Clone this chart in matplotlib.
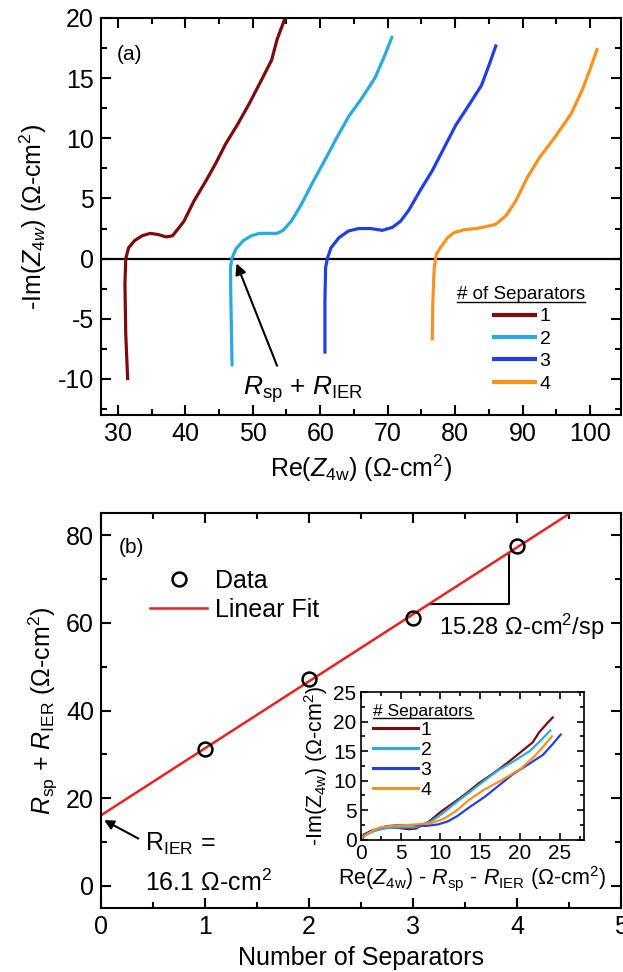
import matplotlib
matplotlib.use('Agg')
import matplotlib.pyplot as plt
from matplotlib.lines import Line2D
from matplotlib.ticker import MultipleLocator

plt.rcParams['font.family'] = ['Liberation Sans', 'DejaVu Sans']
plt.rcParams['mathtext.fontset'] = 'custom'
plt.rcParams['mathtext.rm'] = 'Liberation Sans'
plt.rcParams['mathtext.it'] = 'Liberation Sans:italic'
plt.rcParams['mathtext.bf'] = 'Liberation Sans:bold'
plt.rcParams['axes.unicode_minus'] = False

# ---------------- data ----------------
sep_labels = ['1', '2', '3', '4']
colors = ['#7d0b0b', '#2aaae2', '#2140e4', '#f7921e']

re_1 = [31.47, 31.18, 31.06, 31.18, 31.6, 32.5, 33.6, 34.8, 36.0, 37.2, 38.1, 38.9, 39.8,
        41.3, 43.1, 44.5, 46.0, 47.8, 49.5, 51.3, 52.8, 53.6, 54.8, 55.3]
im_1 = [-10.1, -6.3, -2.1, 0.0, 0.9, 1.5, 1.9, 2.1, 2.0, 1.8, 1.9, 2.45, 3.1,
        4.8, 6.5, 7.9, 9.55, 11.2, 12.9, 14.85, 16.5, 18.2, 20.0, 20.7]

re_2 = [46.94, 46.76, 46.7, 46.9, 47.5, 48.6, 49.8, 51.0, 52.5, 53.6, 54.5, 55.7, 57.2,
        58.9, 60.7, 62.5, 64.2, 66.0, 68.1, 69.5, 70.7]
im_2 = [-8.95, -3.5, -0.75, 0.0, 0.8, 1.5, 1.9, 2.1, 2.1, 2.1, 2.35, 3.1, 4.5,
        6.35, 8.2, 10.1, 11.8, 13.2, 15.0, 16.8, 18.5]

re_3 = [60.7, 60.7, 60.8, 61.06, 61.6, 62.8, 64.2, 65.7, 67.5, 69.2, 70.7, 71.9, 73.1,
        74.8, 76.6, 78.4, 80.1, 82.2, 83.9, 85.1, 86.1]
im_3 = [-7.9, -3.5, -0.75, 0.0, 0.9, 1.75, 2.3, 2.5, 2.5, 2.35, 2.6, 3.1, 4.0,
        5.65, 7.3, 9.25, 11.1, 12.9, 14.4, 16.2, 17.8]

re_4 = [76.6, 76.7, 76.9, 77.2, 77.8, 78.9, 79.8, 81.3, 83.1, 84.5, 86.0, 87.5, 89.0,
        90.7, 92.5, 94.8, 97.2, 98.9, 100.1, 101.1]
im_4 = [-6.8, -3.5, -0.75, 0.35, 0.9, 1.75, 2.15, 2.4, 2.5, 2.65, 2.85, 3.55, 4.8,
        6.75, 8.4, 10.1, 12.05, 14.1, 15.9, 17.5]

re_all = [re_1, re_2, re_3, re_4]
im_all = [im_1, im_2, im_3, im_4]

# R_sp + R_IER (used to shift the inset curves)
inset_offsets = [31.2, 46.9, 61.0, 77.1]

n_separators = [1, 2, 3, 4]
r_total = [31.3, 47.2, 61.2, 77.5]
fit_intercept = 16.1
fit_slope = 15.28
fit_x = [0, 5]

# ---------------- figure ----------------
fig = plt.figure(figsize=(6.23, 9.72), dpi=100)
axA = fig.add_axes([0.162, 0.573, 0.835, 0.4085])
axB = fig.add_axes([0.162, 0.066, 0.835, 0.406])
axI = fig.add_axes([0.579, 0.136, 0.358, 0.152])


def style(ax, size, lw=1.5, maj=7, mino=4, pad=5):
    for s in ax.spines.values():
        s.set_linewidth(lw)
    ax.tick_params(which='both', direction='in', top=True, right=True, width=lw,
                   labelsize=size, pad=pad)
    ax.tick_params(which='major', length=maj)
    ax.tick_params(which='minor', length=mino)


# ---- panel (a) ----
for re, im, c, lab in zip(re_all, im_all, colors, sep_labels):
    axA.plot(re, im, color=c, lw=2.3, label=lab, solid_capstyle='butt')
axA.axhline(0, color='black', lw=1.6, zorder=1)
axA.set_xlim(27.5, 104.6)
axA.set_ylim(-13, 20)
axA.xaxis.set_major_locator(MultipleLocator(10))
axA.xaxis.set_minor_locator(MultipleLocator(5))
axA.yaxis.set_major_locator(MultipleLocator(5))
axA.yaxis.set_minor_locator(MultipleLocator(2.5))
style(axA, 18)
axA.set_xlabel(r'Re($\it{Z}_{\rm 4w}$) ($\Omega$-cm$^{2}$)', fontsize=18, labelpad=5)
axA.set_ylabel(r'-Im($\it{Z}_{4w}$) ($\Omega$-cm$^{2}$)', fontsize=18, labelpad=6)
axA.text(0.03, 0.895, '(a)', transform=axA.transAxes, fontsize=15)
axA.annotate('', xy=(47.6, -0.4), xytext=(53.6, -8.9),
             arrowprops=dict(arrowstyle='-|>', color='black', lw=1.5,
                             mutation_scale=16, shrinkA=0, shrinkB=0))
axA.text(57.4, -10.9, r'$R_{\rm sp}$ + $R_{\rm IER}$', fontsize=19, ha='center', va='center')
legA = axA.legend(title='# of Separators', loc='upper left', bbox_to_anchor=(0.67, 0.345),
                  frameon=False, fontsize=14, title_fontsize=13.5, handlelength=2.3,
                  handletextpad=0.15, labelspacing=0.25, borderaxespad=0,
                  markerfirst=True)
for h in legA.get_lines():
    h.set_linewidth(3)
legA._legend_box.align = 'center'

# ---- panel (b) ----
fit_y = [fit_intercept + fit_slope * x for x in fit_x]
axB.plot(fit_x, fit_y, color='#e8221e', lw=1.8, label='Linear Fit', zorder=2)
axB.plot(n_separators, r_total, 'o', mfc='none', mec='black', mew=1.8, ms=10,
         label='Data', zorder=3)
axB.set_xlim(0, 5)
axB.set_ylim(-5, 85)
axB.xaxis.set_major_locator(MultipleLocator(1))
axB.xaxis.set_minor_locator(MultipleLocator(0.5))
axB.yaxis.set_major_locator(MultipleLocator(20))
axB.yaxis.set_minor_locator(MultipleLocator(10))
style(axB, 18)
axB.set_xlabel('Number of Separators', fontsize=18, labelpad=5)
axB.set_ylabel(r'$R_{\rm sp}$ + $R_{\rm IER}$ ($\Omega$-cm$^{2}$)', fontsize=18, labelpad=4)
axB.text(0.035, 0.9, '(b)', transform=axB.transAxes, fontsize=15)
hB, lB = axB.get_legend_handles_labels()
axB.legend([hB[1], hB[0]], [lB[1], lB[0]], loc='upper left', bbox_to_anchor=(0.075, 0.885),
           frameon=False, fontsize=18, handlelength=2.3, handletextpad=0.3,
           labelspacing=0.2, borderaxespad=0)
# slope triangle
x_a, x_b = 3.16, 3.92
axB.plot([x_a, x_b, x_b], [fit_intercept + fit_slope * x_a, fit_intercept + fit_slope * x_a,
                           fit_intercept + fit_slope * x_b], color='black', lw=1.5, zorder=1)
axB.text(3.25, 59, r'15.28 $\Omega$-cm$^{2}$/sp', fontsize=17, va='center')
axB.annotate('', xy=(0.03, 15.0), xytext=(0.36, 10.8),
             arrowprops=dict(arrowstyle='-|>', color='black', lw=1.5,
                             mutation_scale=14, shrinkA=0, shrinkB=0))
axB.text(0.42, 9.5, r'R$_{\rm IER}$ =', fontsize=18, va='center')
axB.text(0.42, 0.8, r'16.1 $\Omega$-cm$^{2}$', fontsize=18, va='center')

# ---- inset ----
for re, im, c, lab, off in zip(re_all, im_all, colors, sep_labels, inset_offsets):
    axI.plot([r - off for r in re], im, color=c, lw=1.6, label=lab)
axI.set_xlim(0, 28)
axI.set_ylim(0, 25)
axI.xaxis.set_major_locator(MultipleLocator(5))
axI.xaxis.set_minor_locator(MultipleLocator(2.5))
axI.yaxis.set_major_locator(MultipleLocator(5))
axI.yaxis.set_minor_locator(MultipleLocator(2.5))
style(axI, 15, lw=1.2, maj=5, mino=3, pad=3)
axI.set_xlabel(r'Re($\it{Z}_{\rm 4w}$) - $R_{\rm sp}$ - $R_{\rm IER}$ ($\Omega$-cm$^{2}$)',
               fontsize=15.5, labelpad=1)
axI.set_ylabel(r'-Im(Z$_{\rm 4w}$) ($\Omega$-cm$^{2}$)', fontsize=15.5, labelpad=2)
legI = axI.legend(title='# Separators', loc='upper left', bbox_to_anchor=(0.02, 0.97),
                  frameon=False, fontsize=14, title_fontsize=12.5, handlelength=2.3,
                  handletextpad=0.15, labelspacing=0.12, borderaxespad=0)
for h in legI.get_lines():
    h.set_linewidth(2.2)
legI._legend_box.align = 'left'

# underline legend titles
fig.canvas.draw()
inv = fig.transFigure.inverted()
for leg in (legA, legI):
    bb = leg.get_title().get_window_extent()
    (x0, y0), (x1, _) = inv.transform([(bb.x0, bb.y0 + 1), (bb.x1, bb.y0 + 1)])
    fig.add_artist(Line2D([x0, x1], [y0, y0], color='black', lw=1.0,
                          transform=fig.transFigure))

fig.savefig('out.png', dpi=100)
